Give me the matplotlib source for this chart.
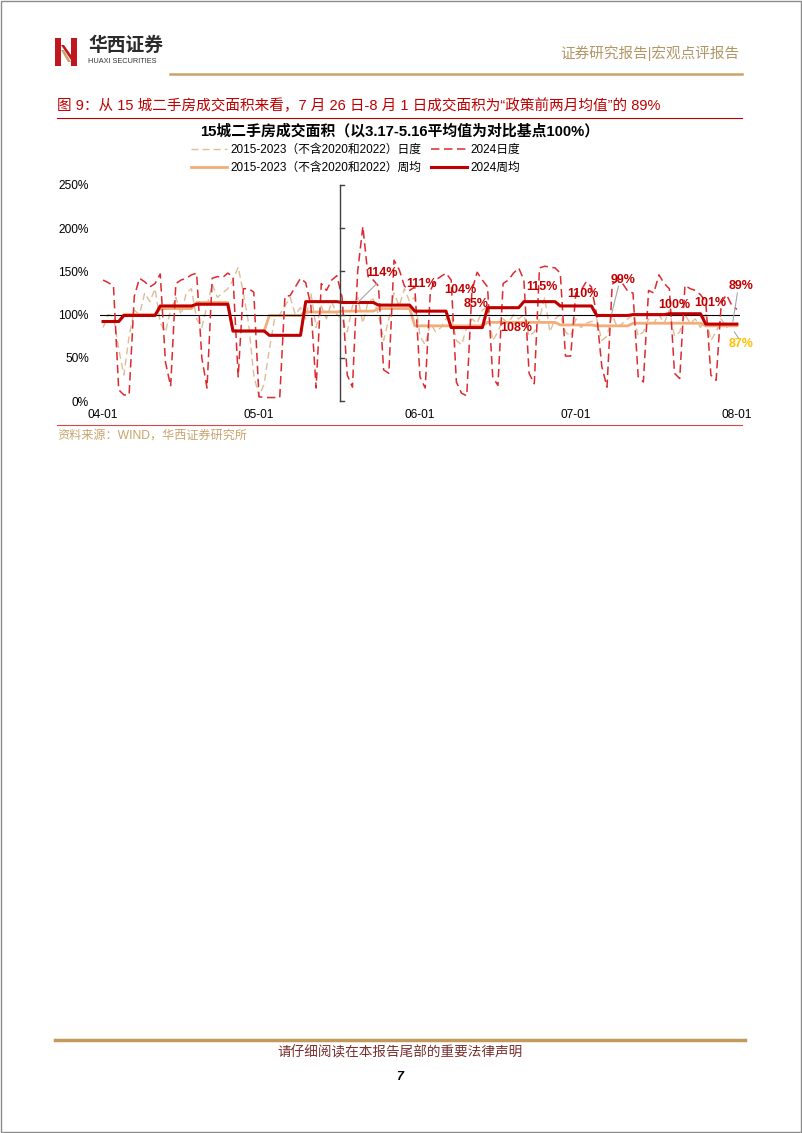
import numpy as np
import matplotlib
matplotlib.use('Agg')
import matplotlib.pyplot as plt
import matplotlib.dates as mdates
from matplotlib.patches import Rectangle, Polygon
import datetime as dt

plt.rcParams['font.family'] = ['Liberation Sans', 'Noto Sans CJK SC', 'DejaVu Sans']

# ---- data (2024-04-01 .. 2024-08-01, % of 3.17-5.16 average) ----
start = dt.datetime(2024, 4, 1)
dates = [start + dt.timedelta(days=i) for i in range(123)]

daily_2024 = [140, 137, 133, 13, 7, 7, 121, 142, 138, 132, 136,
              147, 45, 17, 136, 140, 142, 146,
              148, 50, 15, 142, 144, 143, 148,
              144, 28, 130, 130, 126, 5, 4,
              4, 4, 4, 121, 122, 132, 142,
              137, 110, 15, 136, 128, 140, 145,
              120, 30, 16, 150, 202, 144, 140,
              133, 36, 32, 163, 152, 133, 128,
              132, 28, 15, 128, 140, 144, 148,
              140, 22, 9, 6, 128, 149, 140,
              132, 28, 18, 136, 140, 148, 154,
              140, 32, 20, 154, 156, 155, 154,
              148, 52, 52, 125, 128, 138, 132,
              100, 40, 16, 135, 140, 136, 127,
              125, 28, 22, 128, 125, 146, 136,
              130, 32, 26, 134, 130, 128, 123,
              115, 30, 24, 114, 123, 111, 106]

daily_hist = [85, 100, 98, 60,
              30, 75, 105, 100, 125, 115, 130,
              90, 80, 105, 120, 100, 125, 130,
              95, 85, 110, 135, 120, 125, 130,
              140, 155, 125, 90, 30, 5, 20,
              60, 95, 100, 110, 120, 100, 108,
              95, 125, 85, 110, 95, 115, 100,
              95, 80, 110, 120, 90, 115, 118,
              100, 70, 95, 125, 110, 130, 115,
              120, 75, 65, 90, 80, 85, 95,
              100, 70, 65, 85, 95, 90, 105,
              110, 70, 80, 95, 90, 100, 95,
              100, 75, 80, 95, 120, 80, 95,
              100, 80, 75, 95, 85, 90, 92,
              95, 70, 75, 100, 85, 90, 95,
              100, 75, 80, 95, 90, 100, 90,
              105, 75, 80, 100, 90, 95, 85,
              100, 70, 80, 95, 85, 90, 90]

# weeks run Friday-Thursday; first block is the tail of the week ending 04-04
week_len = [4] + [7] * 17
weekly_2024 = [92, 99, 110, 112, 81, 76, 115, 114, 111, 104, 85, 108, 115, 110, 99, 100, 101, 89]
weekly_hist = [92, 100, 107, 114, 81, 99, 103, 104, 107, 87, 87, 91, 91, 88, 87, 90, 90, 87]

post_labels = ['114%', '111%', '104%', '85%', '108%', '115%', '110%', '99%', '100%', '101%', '89%']
hist_last_label = '87%'

# ---- figure ----
fig = plt.figure(figsize=(8.02, 11.33), dpi=100)

page = fig.add_axes([0, 0, 1, 1])
page.set_xlim(0, 802)
page.set_ylim(1133, 0)
page.axis('off')

page.add_patch(Rectangle((0.5, 0.5), 800.5, 1131.5, fill=False, ec='#8c8c8c', lw=1))

# logo
page.add_patch(Rectangle((55, 38), 6, 28, color='#C0161D', lw=0))
page.add_patch(Rectangle((71, 38), 6, 28, color='#C0161D', lw=0))
page.add_patch(Polygon([(61, 45), (64, 45), (71, 55), (71, 60)], closed=True, color='#C0161D', lw=0))
page.add_patch(Polygon([(61, 50), (64, 50), (71, 62), (68, 62)], closed=True, color='#C9A46A', lw=0))

page.text(88, 46, '华西证券', fontsize=13.5, fontweight='bold', color='#2b2b2b', va='center')
page.text(88, 61.5, 'HUAXI SECURITIES', fontsize=5.3, color='#333333', va='center')
page.text(739, 53, '证券研究报告|宏观点评报告', ha='right', va='center', fontsize=10.5, color='#B39566')
page.plot([170, 742], [73.5, 73.5], color='#C9A46A', lw=1.8)

page.text(57, 106, '图 9：从 15 城二手房成交面积来看，7 月 26 日-8 月 1 日成交面积为“政策前两月均值”的 89%',
          fontsize=10.5, color='#C00000', va='center')
page.plot([57, 742], [118, 118], color='#C00000', lw=0.8)

page.text(400, 131.5, '15城二手房成交面积（以3.17-5.16平均值为对比基点100%）',
          ha='center', va='center', fontsize=10.7, fontweight='bold')

page.plot([57, 742], [424.5, 424.5], color='#D04848', lw=0.8)
page.text(57, 436, '资料来源：WIND，华西证券研究所', fontsize=8.7, color='#C8A46E', va='center')

page.plot([55, 745], [1040, 1040], color='#C39A5B', lw=2.5)
page.text(400, 1052.5, '请仔细阅读在本报告尾部的重要法律声明', ha='center', va='center',
          fontsize=9.8, color='#7A2E2E')
page.text(400, 1077, '7', ha='center', va='center', fontsize=9, fontweight='bold', style='italic')

# ---- chart ----
ax = fig.add_axes([100 / 802, 1 - 401 / 1133, 640 / 802, 216 / 1133])
ax.patch.set_alpha(0)

x = mdates.date2num(dates)
x0 = x[0]

l1, = ax.plot(x, daily_hist, color='#DDBD98', lw=1.0, dashes=(5, 3), zorder=2)
l3, = ax.plot(x, np.repeat(weekly_hist, week_len), color='#F4AC78', lw=2.0, zorder=3)
l2, = ax.plot(x, daily_2024, color='#DC2B30', lw=1.1, dashes=(5.5, 3), zorder=4)
l4, = ax.plot(x, np.repeat(weekly_2024, week_len), color='#C00000', lw=2.2, zorder=5)

ax.axhline(100, color='black', lw=0.8, zorder=3)

# policy-date axis (5.17)
xv = x0 + 45.6
ax.plot([xv, xv], [0, 250], color='#404040', lw=1, zorder=6, clip_on=False)
for v in range(0, 251, 50):
    ax.plot([xv, xv + 0.8], [v, v], color='#404040', lw=1, zorder=6, clip_on=False)

# weekly value labels
lab_day = [53.7, 61.3, 68.7, 71.9, 79.6, 84.4, 92.3, 100.0, 110.0, 116.9, 122.9]
lab_val = [148, 135, 128, 112, 84, 132, 124, 140, 111, 114, 133]
for t, d, v in zip(post_labels, lab_day, lab_val):
    ax.text(x0 + d, v, t, ha='center', va='center', fontsize=9, fontweight='bold',
            color='#C00000', zorder=7, clip_on=False)
ax.text(x0 + 122.9, 66, hist_last_label, ha='center', va='center', fontsize=9,
        fontweight='bold', color='#FFC000', zorder=7, clip_on=False)

# leader lines
for (da, va), (db, vb) in [((52.7, 136), (49.0, 114)),
                           ((99.2, 133), (97.9, 101)),
                           ((122.1, 125), (121.2, 91)),
                           ((121.5, 80), (122.3, 73))]:
    ax.plot([x0 + da, x0 + db], [va, vb], color='#A6A6A6', lw=0.8, zorder=6, clip_on=False)

ax.set_xlim(x0 - 0.6, x0 + 122.6)
ax.set_ylim(0, 250)
ax.set_yticks(range(0, 251, 50))
ax.set_yticklabels([f'{v}%' for v in range(0, 251, 50)])
ticks = [mdates.date2num(dt.datetime(2024, m, 1)) for m in (4, 5, 6, 7, 8)]
ax.set_xticks(ticks)
ax.xaxis.set_major_formatter(mdates.DateFormatter('%m-%d'))
ax.tick_params(axis='both', length=0, labelsize=8.6)
ax.tick_params(axis='y', pad=8)
ax.tick_params(axis='x', pad=5.5)
for s in ax.spines.values():
    s.set_visible(False)

fig.legend([l1, l3, l2, l4],
           ['2015-2023（不含2020和2022）日度', '2015-2023（不含2020和2022）周均',
            '2024日度', '2024周均'],
           ncol=2, loc='center', bbox_to_anchor=(356 / 802, 1 - 159 / 1133),
           frameon=False, fontsize=8.5, handlelength=3.0, handletextpad=0.35,
           columnspacing=0.8, labelspacing=0.45, borderpad=0)

fig.savefig('out.png', dpi=100)
